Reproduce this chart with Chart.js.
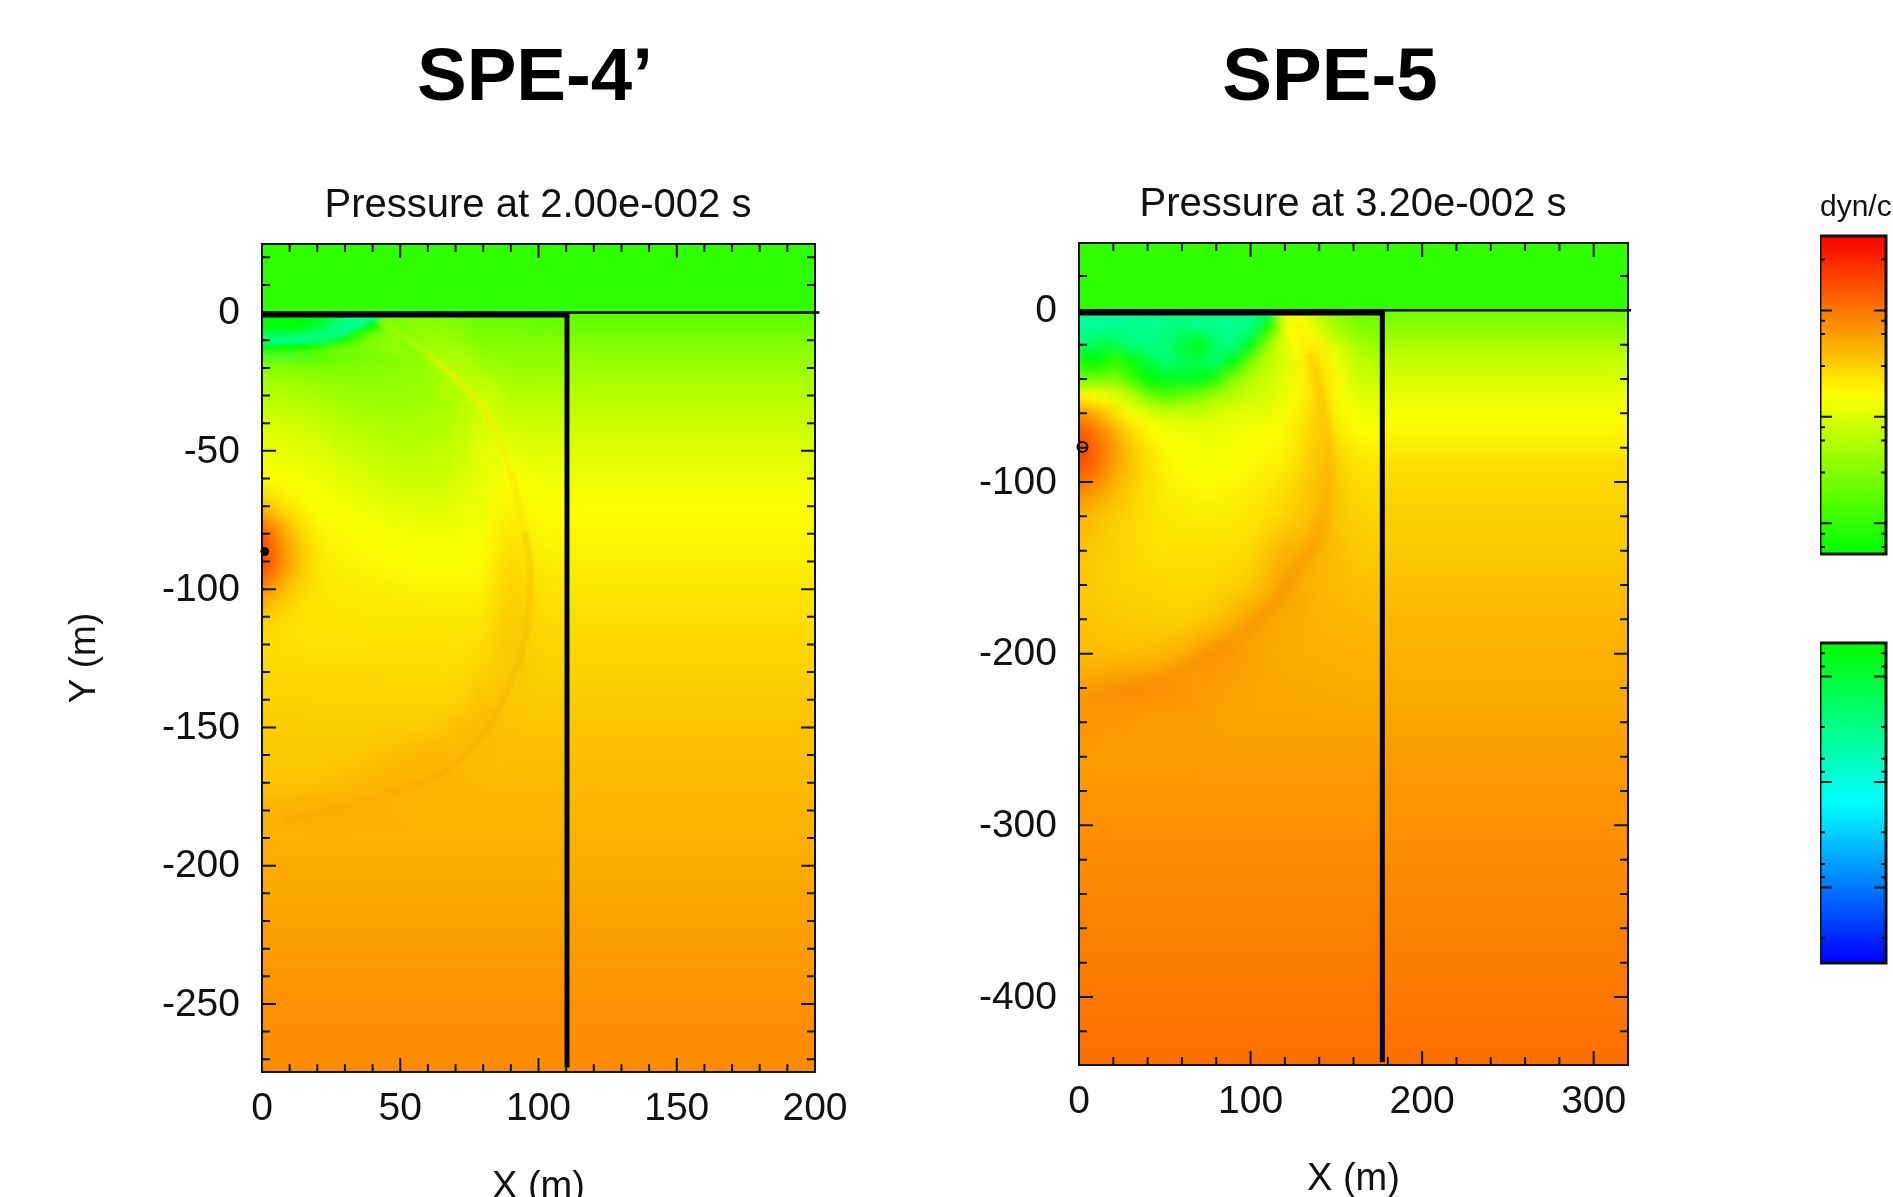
<!DOCTYPE html>
<html>
<head>
<meta charset="utf-8">
<title>SPE-4' and SPE-5 pressure fields</title>
<script src="https://cdn.jsdelivr.net/npm/chart.js@4/dist/chart.umd.min.js"></script>
<style>
html,body{margin:0;padding:0;background:#fff;width:1893px;height:1197px;overflow:hidden;}
canvas{position:absolute;}
.head{position:absolute;top:30px;font:bold 74.5px/90px "Liberation Sans",Arial,sans-serif;color:#000;transform:translateX(-50%);white-space:nowrap;}
</style>
</head>
<body>
<div class="head" style="left:535px">SPE-4’</div>
<div class="head" style="left:1330px">SPE-5</div>
<canvas id="left"></canvas>
<canvas id="right"></canvas>
<canvas id="barUp"></canvas>
<canvas id="barDown"></canvas>
<script>
// Values are signed colour levels:
// 0 green, 1 yellow, 2 red, -1 cyan, -2 blue.
const airLevel = 0.19;

// ---- SPE-4' ----
const leftXMajor = [0, 50, 100, 150, 200];
const leftYMajor = [0, -50, -100, -150, -200, -250];
const leftDepths = [0,-10,-20,-30,-40,-50,-60,-70,-80,-90,-100,-110,-120,-130,-140,-150,-160,-170,-180,-190,-200,-210,-220,-230,-240,-250,-260,-270,-280];
const leftInnerX = [0,10,20,30,40,50,60,70,80,90,100,110];
const leftInner = [
[.0,.0,.0,-.1,-.3,.5,.5,.45,.4,.38,.36,.35],
[-.3,-.3,.1,.3,.4,.5,.62,.6,.5,.5,.5,.5],
[.55,.52,.5,.5,.52,.55,.6,.75,.65,.6,.6,.6],
[.72,.7,.66,.62,.6,.6,.62,.7,.82,.72,.72,.72],
[.85,.83,.78,.72,.68,.67,.68,.72,.85,.82,.8,.8],
[.93,.92,.88,.82,.76,.73,.74,.78,.9,.92,.88,.88],
[1.0,.98,.95,.9,.85,.8,.8,.84,.92,1.0,.95,.95],
[1.25,1.08,1.0,.97,.93,.9,.88,.9,.95,1.05,1.0,1.0],
[1.65,1.28,1.06,1.02,1.0,.97,.95,.96,.98,1.1,1.04,1.03],
[1.75,1.35,1.1,1.05,1.03,1.01,1.0,1.0,1.02,1.15,1.08,1.06],
[1.45,1.22,1.1,1.08,1.07,1.06,1.05,1.05,1.06,1.18,1.12,1.1],
[1.2,1.13,1.1,1.1,1.09,1.09,1.09,1.09,1.1,1.2,1.15,1.13],
[1.14,1.13,1.12,1.12,1.12,1.12,1.12,1.12,1.14,1.22,1.17,1.16],
[1.15,1.15,1.15,1.15,1.15,1.14,1.14,1.14,1.18,1.22,1.19,1.18],
[1.18,1.18,1.17,1.17,1.17,1.17,1.17,1.17,1.24,1.22,1.21,1.21],
[1.2,1.2,1.2,1.2,1.2,1.2,1.2,1.25,1.27,1.24,1.23,1.23],
[1.22,1.22,1.22,1.22,1.23,1.26,1.29,1.27,1.26,1.25,1.25,1.25],
[1.24,1.24,1.24,1.26,1.29,1.3,1.29,1.28,1.27,1.27,1.27,1.27],
[1.3,1.31,1.32,1.32,1.31,1.3,1.29,1.29,1.29,1.29,1.29,1.29],
[1.31,1.31,1.31,1.31,1.31,1.31,1.31,1.31,1.31,1.31,1.31,1.31],
[1.33,1.33,1.33,1.33,1.33,1.33,1.33,1.33,1.33,1.33,1.33,1.33],
[1.35,1.35,1.35,1.35,1.35,1.35,1.35,1.35,1.35,1.35,1.35,1.35],
[1.37,1.37,1.37,1.37,1.37,1.37,1.37,1.37,1.37,1.37,1.37,1.37],
[1.39,1.39,1.39,1.39,1.39,1.39,1.39,1.39,1.39,1.39,1.39,1.39],
[1.41,1.41,1.41,1.41,1.41,1.41,1.41,1.41,1.41,1.41,1.41,1.41],
[1.43,1.43,1.43,1.43,1.43,1.43,1.43,1.43,1.43,1.43,1.43,1.43],
[1.44,1.44,1.44,1.44,1.44,1.44,1.44,1.44,1.44,1.44,1.44,1.44],
[1.45,1.45,1.45,1.45,1.45,1.45,1.45,1.45,1.45,1.45,1.45,1.45],
[1.46,1.46,1.46,1.46,1.46,1.46,1.46,1.46,1.46,1.46,1.46,1.46]
];
const leftOuter = [.35,.5,.62,.72,.8,.88,.95,1.0,1.03,1.06,1.1,1.13,1.16,1.18,1.21,1.23,1.25,1.27,1.29,1.31,1.33,1.35,1.37,1.39,1.41,1.43,1.44,1.45,1.46];
const leftPocketX = [0,5,10,15,20,25,30,35,40,45,50];
const leftPocketY = [0,-2.5,-5,-7.5,-10,-12.5,-15];
const leftPocket = [
[.0,.0,.0,.0,-.05,-.25,-.45,-.55,-.55,.45,.5],
[.0,.0,.0,.0,-.1,-.3,-.5,-.55,-.5,.5,.5],
[-.05,-.05,-.05,-.1,-.2,-.4,-.55,-.5,.0,.5,.52],
[-.3,-.3,-.3,-.35,-.45,-.55,-.5,.1,.4,.52,.55],
[-.55,-.55,-.55,-.55,-.5,-.3,.1,.35,.48,.55,.57],
[-.1,-.1,-.05,.05,.15,.3,.4,.45,.5,.55,.58],
[.3,.3,.32,.35,.38,.42,.45,.48,.5,.55,.6]
];
const leftWallX = 110.3;
const leftSource = [{x:1, y:-86.4}];
const leftArcUpper = [{x:42,y:-3},{x:60,y:-15},{x:80,y:-35},{x:90,y:-58},{x:95,y:-79}];
const leftArcLower = [{x:90,y:-58},{x:95,y:-79},{x:97,y:-101},{x:91,y:-131},{x:71,y:-162},{x:36,y:-177},{x:8,y:-184}];

// ---- SPE-5 ----
const rightXMajor = [0, 100, 200, 300];
const rightYMajor = [0, -100, -200, -300, -400];
const rightUpperX = [0,10,20,30,40,50,60,70,80,90,100,110,120,130,140,150,160,170,180];
const rightUpperY = [0,-10,-20,-30,-40,-50,-60,-70,-80,-90,-100,-110,-120];
const rightUpper = [
[-.6,-.6,-.6,-.6,-.6,-.55,-.55,-.55,-.55,-.55,-.55,-.45,.9,.95,.7,.55,.45,.43,.42],
[-.6,-.6,-.55,-.55,-.55,-.5,-.45,-.5,-.55,-.55,-.5,.1,.95,1.0,.85,.65,.55,.5,.48],
[-.4,-.3,-.3,-.45,-.5,-.45,-.25,-.1,-.4,-.5,-.1,.6,.9,1.0,1.05,.85,.68,.62,.6],
[.1,.0,.2,.05,-.25,-.45,-.3,-.25,-.4,-.05,.5,.75,.85,1.05,1.1,.95,.78,.72,.7],
[.5,.45,.5,.3,.0,-.1,-.15,-.1,.15,.55,.7,.8,.9,1.05,1.12,1.02,.85,.8,.78],
[1.05,1.0,.9,.75,.5,.35,.42,.5,.65,.72,.8,.85,.93,1.05,1.15,1.03,.92,.88,.86],
[1.4,1.3,1.15,.98,.88,.82,.8,.8,.85,.88,.9,.92,.98,1.08,1.18,1.05,.98,.95,.93],
[1.62,1.5,1.32,1.15,1.02,.97,.93,.92,.93,.95,.97,1.0,1.03,1.1,1.2,1.1,1.02,1.0,.98],
[1.72,1.58,1.4,1.22,1.1,1.02,.98,.96,.96,.97,1.0,1.02,1.05,1.12,1.22,1.15,1.08,1.05,1.03],
[1.68,1.56,1.38,1.24,1.12,1.05,1.0,.98,.98,1.0,1.02,1.05,1.08,1.15,1.24,1.18,1.12,1.1,1.08],
[1.55,1.46,1.32,1.2,1.13,1.07,1.03,1.02,1.02,1.03,1.05,1.08,1.12,1.18,1.25,1.2,1.15,1.13,1.11],
[1.4,1.34,1.26,1.18,1.13,1.08,1.06,1.05,1.05,1.06,1.08,1.11,1.15,1.2,1.26,1.22,1.17,1.15,1.14],
[1.3,1.26,1.2,1.16,1.12,1.09,1.08,1.07,1.07,1.08,1.1,1.13,1.17,1.23,1.27,1.23,1.19,1.17,1.16]
];
const rightLowerX = [0,20,40,60,80,100,120,140,160,180];
const rightLowerY = [-120,-140,-160,-180,-200,-220,-240,-260,-280,-300,-320,-340,-360,-380,-400,-420,-440];
const rightLower = [
[1.3,1.2,1.12,1.08,1.07,1.1,1.17,1.27,1.19,1.17],
[1.24,1.18,1.13,1.12,1.12,1.15,1.3,1.3,1.22,1.2],
[1.22,1.18,1.16,1.15,1.16,1.22,1.36,1.28,1.25,1.24],
[1.24,1.21,1.2,1.19,1.24,1.36,1.34,1.3,1.28,1.27],
[1.27,1.25,1.26,1.32,1.42,1.37,1.33,1.32,1.31,1.3],
[1.36,1.42,1.44,1.43,1.38,1.36,1.35,1.34,1.33,1.33],
[1.42,1.41,1.39,1.38,1.37,1.36,1.36,1.36,1.36,1.36],
[1.39,1.39,1.39,1.39,1.39,1.39,1.39,1.39,1.39,1.39],
[1.41,1.41,1.41,1.41,1.41,1.41,1.41,1.41,1.41,1.41],
[1.43,1.43,1.43,1.43,1.43,1.43,1.43,1.43,1.43,1.43],
[1.45,1.45,1.45,1.45,1.45,1.45,1.45,1.45,1.45,1.45],
[1.47,1.47,1.47,1.47,1.47,1.47,1.47,1.47,1.47,1.47],
[1.49,1.49,1.49,1.49,1.49,1.49,1.49,1.49,1.49,1.49],
[1.51,1.51,1.51,1.51,1.51,1.51,1.51,1.51,1.51,1.51],
[1.53,1.53,1.53,1.53,1.53,1.53,1.53,1.53,1.53,1.53],
[1.55,1.55,1.55,1.55,1.55,1.55,1.55,1.55,1.55,1.55],
[1.57,1.57,1.57,1.57,1.57,1.57,1.57,1.57,1.57,1.57]
];
const rightOuterUpper = [.43,.55,.68,.78,.85,.93,.98,1.03,1.08,1.12,1.15,1.17,1.19];
const rightOuterLower = [1.19,1.21,1.25,1.28,1.31,1.33,1.36,1.39,1.41,1.43,1.45,1.47,1.49,1.51,1.53,1.55,1.57];
const rightWallX = 176.8;
const rightSource = [{x:2, y:-79.6}];
const rightArcYellow = [{x:122,y:-3},{x:140,y:-20},{x:150,y:-45}];
const rightArcUpper = [{x:126,y:-8},{x:134,y:-25},{x:143,y:-60},{x:146,y:-90},{x:143,y:-122}];
const rightArcLower = [{x:146,y:-90},{x:143,y:-122},{x:127,y:-151},{x:109,y:-175},{x:78,y:-200},{x:51,y:-213},{x:22,y:-223},{x:0,y:-226}];

// ---- colour bars ----
const barMajor = [1, 10, 100];
const barMinor = [.6,.7,.8,.9,2,3,4,5,6,7,8,9,20,30,40,50,60,70,80,90,200,300,400];
const upBarLevels = [2,1.75,1.5,1.25,1,.75,.5,.25,0];
const downBarLevels = [0,-.25,-.5,-.75,-1,-1.25,-1.5,-1.75,-2];
const upBarNodes = [500, 208, 86, 36, 15, 6.2, 2.6, 1.07, .515];
const downBarNodes = [.48, 1.2, 2.95, 7.3, 18, 44, 106, 262, 520];

const FONT = '"Liberation Sans", Arial, sans-serif';
const INK = '#111';

function colourOf(L) {
  if (L >= 1) return [252, 255 * (2 - Math.min(L, 2)), 0];
  if (L >= 0) return [252 * L, 255, 0];
  if (L >= -1) return [0, 255, -255 * L];
  return [0, 255 * (2 + Math.max(L, -2)), 255];
}

// Paints a block of levels at its nodes, through the chart's own scales.
function paintField(chart, f) {
  const {ctx, chartArea: a, scales} = chart;
  const sx = scales.x, sy = scales.y;
  const n = f.xs.length, m = f.ys.length;
  const off = document.createElement('canvas');
  off.width = n; off.height = m;
  const oc = off.getContext('2d');
  const img = oc.createImageData(n, m);
  for (let j = 0; j < m; j++) for (let i = 0; i < n; i++) {
    const c = colourOf(f.rows[j][i]), k = 4 * (j * n + i);
    img.data[k] = c[0]; img.data[k+1] = c[1]; img.data[k+2] = c[2]; img.data[k+3] = 255;
  }
  oc.putImageData(img, 0, 0);
  const x0 = sx.getPixelForValue(f.xs[0]), x1 = sx.getPixelForValue(f.xs[n-1]);
  const y0 = sy.getPixelForValue(f.ys[0]), y1 = sy.getPixelForValue(f.ys[m-1]);
  const cw = (x1 - x0) / (n - 1);
  const ch = (y1 - y0) / (m - 1);
  const c = f.clip || {};
  const cx0 = c.xMin !== undefined ? sx.getPixelForValue(c.xMin) : x0;
  const cx1 = c.xMax !== undefined ? sx.getPixelForValue(c.xMax) : x1;
  const cy0 = c.yTop !== undefined ? sy.getPixelForValue(c.yTop) : y0;
  const cy1 = c.yBottom !== undefined ? sy.getPixelForValue(c.yBottom) : y1;
  ctx.save();
  ctx.beginPath();
  ctx.rect(Math.max(cx0, a.left), Math.max(cy0, a.top), Math.min(cx1, a.right) - Math.max(cx0, a.left), Math.min(cy1, a.bottom) - Math.max(cy0, a.top));
  ctx.clip();
  ctx.imageSmoothingEnabled = true;
  ctx.imageSmoothingQuality = 'high';
  ctx.drawImage(off, x0 - cw / 2, y0 - ch / 2, cw * n, ch * m);
  ctx.restore();
}

const fieldPlugin = {
  id: 'field',
  beforeDatasetsDraw(chart, args, opts) { (opts.blocks || []).forEach(b => paintField(chart, b)); }
};

const framePlugin = {
  id: 'frame',
  afterDatasetsDraw(chart, args, opts) {
    const {ctx, chartArea: a, scales} = chart;
    ctx.save();
    ctx.strokeStyle = opts.color;
    ctx.lineWidth = opts.tickWidth;
    const visible = (s, v) => v >= s.min && v <= s.max;
    if (opts.xTicks) scales.x.ticks.forEach(t => {
      if (!visible(scales.x, t.value)) return;
      const p = scales.x.getPixelForValue(t.value), l = t.major ? opts.major : opts.minor;
      ctx.beginPath(); ctx.moveTo(p, a.top); ctx.lineTo(p, a.top + l);
      ctx.moveTo(p, a.bottom); ctx.lineTo(p, a.bottom - l); ctx.stroke();
    });
    scales.y.ticks.forEach(t => {
      if (!visible(scales.y, t.value)) return;
      const p = scales.y.getPixelForValue(t.value), l = t.major ? opts.major : opts.minor;
      ctx.beginPath(); ctx.moveTo(a.left, p); ctx.lineTo(a.left + l, p);
      ctx.moveTo(a.right, p); ctx.lineTo(a.right - l, p); ctx.stroke();
    });
    ctx.lineWidth = opts.frameWidth;
    ctx.strokeRect(a.left, a.top, a.right - a.left, a.bottom - a.top);
    ctx.restore();
  }
};
Chart.register(fieldPlugin, framePlugin);

function stepTicks(lo, hi, step, majors) {
  const out = [];
  for (let v = Math.ceil(lo / step) * step; v <= hi; v += step) out.push({value: v, major: majors.includes(v)});
  return out;
}
function lineSet(data, color, width, extra) {
  return Object.assign({data, showLine: true, borderColor: color, borderWidth: width, borderCapStyle: 'butt', pointRadius: 0, fill: false, tension: 0}, extra || {});
}
// A soft ridge: the same read-off curve stroked at three widths with a low alpha,
// its first stretch fainter so that it fades in.
function softArc(data, rgb, alpha, width) {
  return [1, .66, .33].map(f => lineSet(data, `rgba(${rgb},${alpha})`, width * f, {
    tension: .4,
    segment: {borderColor: c => `rgba(${rgb},${c.p0DataIndex === 0 ? alpha * .35 : alpha})`}
  }));
}
const tickFont = {family: FONT, size: 39};
const labelOnlyMajor = (v, i, ts) => ts[i] && ts[i].major ? String(v) : '';

function panel(id, p) {
  const cv = document.getElementById(id);
  cv.width = p.w; cv.height = p.h;
  cv.style.left = p.left + 'px'; cv.style.top = '0px';
  cv.style.width = p.w + 'px'; cv.style.height = p.h + 'px';
  const yTitle = p.yTitle ? {display: true, text: p.yTitle, color: INK, font: {family: FONT, size: 37, lineHeight: 1.2}, padding: {top: p.yTitlePad, bottom: 0}} : {display: false};
  new Chart(cv, {
    type: 'scatter',
    data: {datasets: p.datasets},
    options: {
      responsive: false, animation: false, devicePixelRatio: 1,
      layout: {padding: 0},
      plugins: {
        legend: {display: false}, tooltip: {enabled: false},
        title: {display: true, text: p.title, color: INK, font: {family: FONT, size: 40, weight: 'normal', lineHeight: 1.2},
                padding: {top: p.titleY - 24, bottom: p.plotTop - p.titleY - 24}},
        field: {blocks: p.blocks},
        frame: {color: INK, tickWidth: 2, frameWidth: 2, major: 14, minor: 8, xTicks: true}
      },
      scales: {
        x: {type: 'linear', bounds: 'data', min: p.xMin, max: p.xMax,
            grid: {display: false}, border: {display: false},
            ticks: {autoSkip: false, maxRotation: 0, minRotation: 0, color: INK, font: tickFont, padding: p.xPad, callback: labelOnlyMajor},
            title: {display: true, text: 'X (m)', color: INK, font: {family: FONT, size: 38, lineHeight: 1.2}, padding: {top: 0, bottom: p.h - p.xTitleY - 23}},
            afterBuildTicks: s => { s.ticks = stepTicks(p.xMin, p.xMax, p.xStep, p.xMajor); },
            afterFit: s => { s.height = p.h - p.plotBottom; }},
        y: {type: 'linear', bounds: 'data', min: p.yMin, max: p.yMax,
            grid: {display: false}, border: {display: false},
            ticks: {autoSkip: false, color: INK, font: tickFont, padding: p.yPad, labelOffset: 1, callback: labelOnlyMajor},
            title: yTitle,
            afterBuildTicks: s => { s.ticks = stepTicks(p.yMin, p.yMax, p.yStep, p.yMajor); },
            afterFit: s => { s.width = p.plotLeft; }},
        margin: {type: 'linear', position: 'right', min: 0, max: 1,
            grid: {display: false}, border: {display: false}, ticks: {display: false},
            afterFit: s => { s.width = p.w - p.plotRight; }}
      }
    }
  });
}

panel('left', {
  left: 0, w: 1076, h: 1240, plotLeft: 262, plotRight: 815, plotTop: 244, plotBottom: 1072,
  title: 'Pressure at 2.00e-002 s', titleY: 206, xTitleY: 1187, yTitle: 'Y (m)', yTitlePad: 63,
  xMin: 0, xMax: 200, xStep: 10, xMajor: leftXMajor, xPad: 6,
  yMin: -274.6, yMax: 24.8, yStep: 10, yMajor: leftYMajor, yPad: 14,
  blocks: [
    {xs: [0, 200], ys: [24.8, 0], rows: [[airLevel, airLevel], [airLevel, airLevel]]},
    {xs: leftInnerX, ys: leftDepths, rows: leftInner, clip: {xMax: leftWallX, yTop: 0}},
    {xs: [leftWallX, 200], ys: leftDepths, rows: leftOuter.map(v => [v, v]), clip: {xMin: leftWallX, xMax: 200, yTop: 0}},
    {xs: leftPocketX, ys: leftPocketY, rows: leftPocket}
  ],
  datasets: [
    {data: leftSource, pointRadius: 4, pointBackgroundColor: '#000', pointBorderColor: '#000', showLine: false, clip: false},
    lineSet([{x: leftWallX, y: -1}, {x: leftWallX, y: -273}], '#000', 5),
    lineSet([{x: 0, y: -.9}, {x: leftWallX + .9, y: -.9}], '#000', 5),
    lineSet([{x: 0, y: 0}, {x: 201.6, y: 0}], '#000', 2.5, {clip: false}),
    ...softArc(leftArcUpper, '250,238,0', .22, 8),
    ...softArc(leftArcLower, '250,165,0', .1, 9)
  ]
});

panel('right', {
  left: 960, w: 786, h: 1240, plotLeft: 119, plotRight: 668, plotTop: 243, plotBottom: 1065,
  title: 'Pressure at 3.20e-002 s', titleY: 205, xTitleY: 1179,
  xMin: 0, xMax: 320, xStep: 20, xMajor: rightXMajor, xPad: 6,
  yMin: -439.6, yMax: 39.2, yStep: 20, yMajor: rightYMajor, yPad: 14,
  blocks: [
    {xs: [0, 320], ys: [39.2, 0], rows: [[airLevel, airLevel], [airLevel, airLevel]]},
    {xs: rightLowerX, ys: rightLowerY, rows: rightLower, clip: {xMax: rightWallX, yTop: -118}},
    {xs: [rightWallX, 320], ys: rightLowerY, rows: rightOuterLower.map(v => [v, v]), clip: {xMin: rightWallX, xMax: 320, yTop: -118}},
    {xs: rightUpperX, ys: rightUpperY, rows: rightUpper, clip: {xMax: rightWallX, yTop: 0, yBottom: -120}},
    {xs: [rightWallX, 320], ys: rightUpperY, rows: rightOuterUpper.map(v => [v, v]), clip: {xMin: rightWallX, xMax: 320, yTop: 0, yBottom: -120}}
  ],
  datasets: [
    {data: rightSource, pointRadius: 5, pointBackgroundColor: 'rgba(0,0,0,0)', pointBorderColor: '#000', pointBorderWidth: 2, showLine: false, clip: false},
    lineSet([{x: rightWallX, y: -1}, {x: rightWallX, y: -438}], '#000', 5),
    lineSet([{x: 0, y: -1.6}, {x: rightWallX + 1.4, y: -1.6}], '#000', 5),
    lineSet([{x: 0, y: 0}, {x: 321.8, y: 0}], '#000', 2.5, {clip: false}),
    ...softArc(rightArcYellow, '250,240,0', .18, 10),
    ...softArc(rightArcUpper, '250,165,0', .09, 16),
    ...softArc(rightArcLower, '250,140,0', .1, 22)
  ]
});

function colourBar(id, b) {
  const cv = document.getElementById(id);
  cv.width = b.w; cv.height = b.h;
  cv.style.left = b.left + 'px'; cv.style.top = '0px';
  cv.style.width = b.w + 'px'; cv.style.height = b.h + 'px';
  const title = b.title
    ? {display: true, text: b.title, align: 'start', color: INK, font: {family: FONT, size: 30, weight: 'normal', lineHeight: 1.2}, padding: {top: b.titleY - 18, bottom: b.plotTop - b.titleY - 18}}
    : {display: false};
  const ticks = barMajor.map(v => ({value: v, major: true})).concat(barMinor.map(v => ({value: v, major: false}))).sort((p, q) => p.value - q.value);
  new Chart(cv, {
    type: 'scatter',
    data: {datasets: []},
    options: {
      responsive: false, animation: false, devicePixelRatio: 1,
      layout: {padding: {left: 0, right: 0, top: b.title ? 0 : b.plotTop, bottom: b.h - b.plotBottom}},
      plugins: {
        legend: {display: false}, tooltip: {enabled: false}, title,
        field: {blocks: [{xs: [0, 1], ys: b.nodes, rows: b.levels.map(v => [v, v]), clip: {xMin: 0, xMax: 1}}]},
        frame: {color: INK, tickWidth: 2, frameWidth: 3, major: 12, minor: 5, xTicks: false}
      },
      scales: {
        x: {type: 'linear', min: 0, max: 1, display: false},
        y: {type: 'logarithmic', min: b.min, max: b.max, reverse: b.reverse, display: false,
            afterBuildTicks: s => { s.ticks = ticks.slice(); }},
        margin: {type: 'linear', position: 'right', min: 0, max: 1,
            grid: {display: false}, border: {display: false}, ticks: {display: false},
            afterFit: s => { s.width = b.w - b.plotW; }}
      }
    }
  });
}
colourBar('barUp', {left: 1820, w: 73, h: 600, plotW: 66, plotTop: 236, plotBottom: 554, title: 'dyn/c', titleY: 208, min: .515, max: 500, reverse: false, nodes: upBarNodes, levels: upBarLevels});
colourBar('barDown', {left: 1820, w: 73, h: 1000, plotW: 66, plotTop: 643, plotBottom: 963, min: .48, max: 520, reverse: true, nodes: downBarNodes, levels: downBarLevels});
</script>
</body>
</html>
